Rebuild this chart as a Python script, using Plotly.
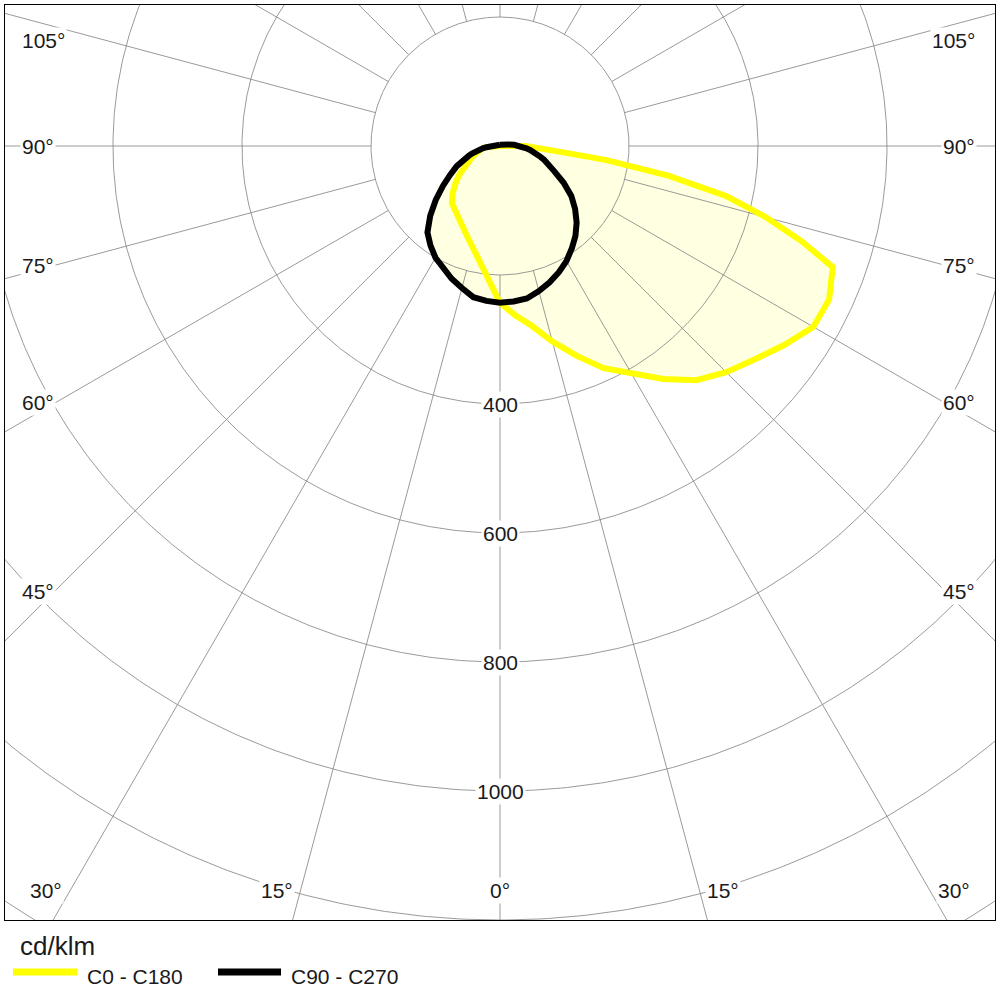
import numpy as np
import plotly.graph_objects as go

# ---------------------------------------------------------------
# Photometric data (cd/klm) per gamma angle
# ---------------------------------------------------------------
gamma = [0, 5, 10, 15, 20, 25, 30, 35, 40, 45, 50, 55, 60, 65,
         70, 72.5, 75, 77.5, 80, 82.5, 85, 87.5, 90,
         95, 100, 105, 110, 115, 120, 125, 130, 135, 140, 145, 150, 155, 160, 165, 170, 175, 180]

# C0 - C180 plane (yellow)
c0 = [243, 263, 283, 314, 346, 380, 406, 441, 474, 496, 515, 538, 561, 563,
      549, 490, 427, 360, 265, 165, 83, 54, 40,
      0, 0, 0, 0, 0, 0, 0, 0, 0, 0, 0, 0, 0, 0, 0, 0, 0, 0]
c180 = [243, 207, 182, 163, 149, 138, 129, 122, 116, 104, 90, 77, 63, 51,
        44, 40, 36, 33, 30, 27, 24, 22, 20,
        0, 0, 0, 0, 0, 0, 0, 0, 0, 0, 0, 0, 0, 0, 0, 0, 0, 0]
# C90 - C270 plane (black)
c90 = [243, 242, 240, 233, 225, 216, 206, 194, 182, 168, 152, 135, 114, 93,
       79, 72, 65, 59, 53, 47, 41, 36, 31,
       22, 14, 9, 6, 5, 4, 4, 3, 3, 3, 3, 3, 3, 2, 2, 2, 2, 2]
c270 = [243, 241, 238, 228, 219, 209, 200, 188, 175, 153, 130, 108, 89, 74,
        59, 51, 45, 39, 33, 27, 21, 18, 16,
        12, 8, 6, 5, 4, 4, 3, 3, 3, 3, 3, 3, 2, 2, 2, 2, 2, 2]

ring_values = [200, 400, 600, 800, 1000, 1200, 1400]
ring_labels = [400, 600, 800, 1000]
spoke_angles = list(range(0, 360, 15))
side_labels = [105, 90, 75, 60, 45]
bottom_labels = [30, 15, 0]

# view: centre of the diagram sits near the top, 0.645 px per cd/klm
PX = 0.645
X_MAX = 767.4
Y_TOP = 218.6
Y_BOT = -1200.0

FONT = "Liberation Sans, Arial, sans-serif"
GRID = "#808080"
FILL = "#FFFFE2"


def polar_path(right, left):
    """Closed outline: left half-plane from 180 down to 0, then right half back up."""
    g = np.radians(gamma)
    r_r = np.array(right, float)
    r_l = np.array(left, float)
    x = np.concatenate([-(r_l * np.sin(g))[::-1], r_r * np.sin(g)])
    y = np.concatenate([-(r_l * np.cos(g))[::-1], -r_r * np.cos(g)])
    return x, y


yx, yy = polar_path(c0, c180)
bx, by = polar_path(c90, c270)

fig = go.Figure()

# ── fills underneath the grid ───────────────────────────────
for x, y in [(yx, yy), (bx, by)]:
    fig.add_trace(go.Scatter(x=x, y=y, mode="lines", fill="toself",
                             fillcolor=FILL, line=dict(width=0),
                             hoverinfo="skip", showlegend=False))

# ── grid: rings + spokes (spokes start at first ring) ───────
t = np.linspace(0, 2 * np.pi, 721)
gx, gy = [], []
for r in ring_values:
    gx += list(r * np.sin(t)) + [None]
    gy += list(r * np.cos(t)) + [None]
for a in spoke_angles:
    ar = np.radians(a)
    gx += [ring_values[0] * np.sin(ar), 3000 * np.sin(ar), None]
    gy += [-ring_values[0] * np.cos(ar), -3000 * np.cos(ar), None]
fig.add_trace(go.Scatter(x=gx, y=gy, mode="lines",
                         line=dict(color=GRID, width=0.8),
                         hoverinfo="skip", showlegend=False))

# ── curves ──────────────────────────────────────────────────
fig.add_trace(go.Scatter(x=yx, y=yy, mode="lines", name="C0 - C180",
                         line=dict(color="#FFFF00", width=6), showlegend=False))
fig.add_trace(go.Scatter(x=bx, y=by, mode="lines", name="C90 - C270",
                         line=dict(color="#000000", width=6), showlegend=False))

# ── labels ──────────────────────────────────────────────────
lab = dict(showarrow=False, bgcolor="white", borderpad=1,
           font=dict(family=FONT, size=21, color="#1a1a1a"))

for v in ring_labels:
    fig.add_annotation(x=0, y=-v, text=str(v), xanchor="center", yanchor="middle", **lab)

x_probe = (55 - 500) / PX
y_cap = Y_TOP - 35 / PX          # keep side labels clear of the top edge
for a in side_labels:
    ar = np.radians(a)
    y = min(x_probe * np.cos(ar) / np.sin(ar), y_cap)
    fig.add_annotation(x=-X_MAX + 15 / PX, y=y, text=f"{a}°", xanchor="left", yanchor="middle", **lab)
    fig.add_annotation(x=X_MAX - 18 / PX, y=y, text=f"{a}°", xanchor="right", yanchor="middle", **lab)

y_bot_lab = (146 - 890) / PX
for a in bottom_labels:
    xl = -y_bot_lab * np.tan(np.radians(a))
    if a == 0:
        fig.add_annotation(x=0, y=y_bot_lab, text="0°", xanchor="center", yanchor="middle", **lab)
    else:
        fig.add_annotation(x=-xl, y=y_bot_lab, text=f"{a}°", xanchor="right", xshift=-6,
                           yanchor="middle", **lab)
        fig.add_annotation(x=xl, y=y_bot_lab, text=f"{a}°", xanchor="left", xshift=6,
                           yanchor="middle", **lab)

# ── legend (drawn below the frame) ──────────────────────────
def px_x(p):
    return (p - 5) / 990


def px_y(p):
    return (920 - p) / 915


fig.add_annotation(xref="paper", yref="paper", x=px_x(18), y=px_y(946), text="cd/klm",
                   showarrow=False, xanchor="left", yanchor="middle",
                   font=dict(family=FONT, size=26, color="#1a1a1a"))
for x0, x1, col, txt, xt in [(13, 77, "#FFFF00", "C0 - C180", 85),
                             (218, 281, "#000000", "C90 - C270", 289)]:
    fig.add_shape(type="line", xref="paper", yref="paper",
                  x0=px_x(x0), x1=px_x(x1), y0=px_y(972), y1=px_y(972),
                  line=dict(color=col, width=7))
    fig.add_annotation(xref="paper", yref="paper", x=px_x(xt), y=px_y(976), text=txt,
                       showarrow=False, xanchor="left", yanchor="middle",
                       font=dict(family=FONT, size=21, color="#1a1a1a"))

fig.update_layout(
    width=1000, height=1000,
    margin=dict(l=5, r=5, t=5, b=80),
    paper_bgcolor="white", plot_bgcolor="white",
    showlegend=False,
)
fig.update_xaxes(range=[-X_MAX, X_MAX], showgrid=False, zeroline=False,
                 showticklabels=False, ticks="", showline=True, mirror=True,
                 linecolor="black", linewidth=1)
fig.update_yaxes(range=[Y_BOT, Y_TOP], showgrid=False, zeroline=False,
                 showticklabels=False, ticks="", showline=True, mirror=True,
                 linecolor="black", linewidth=1)

fig.write_html("out.html", config={"displayModeBar": False},
               post_script="document.body.style.margin='0px';")
